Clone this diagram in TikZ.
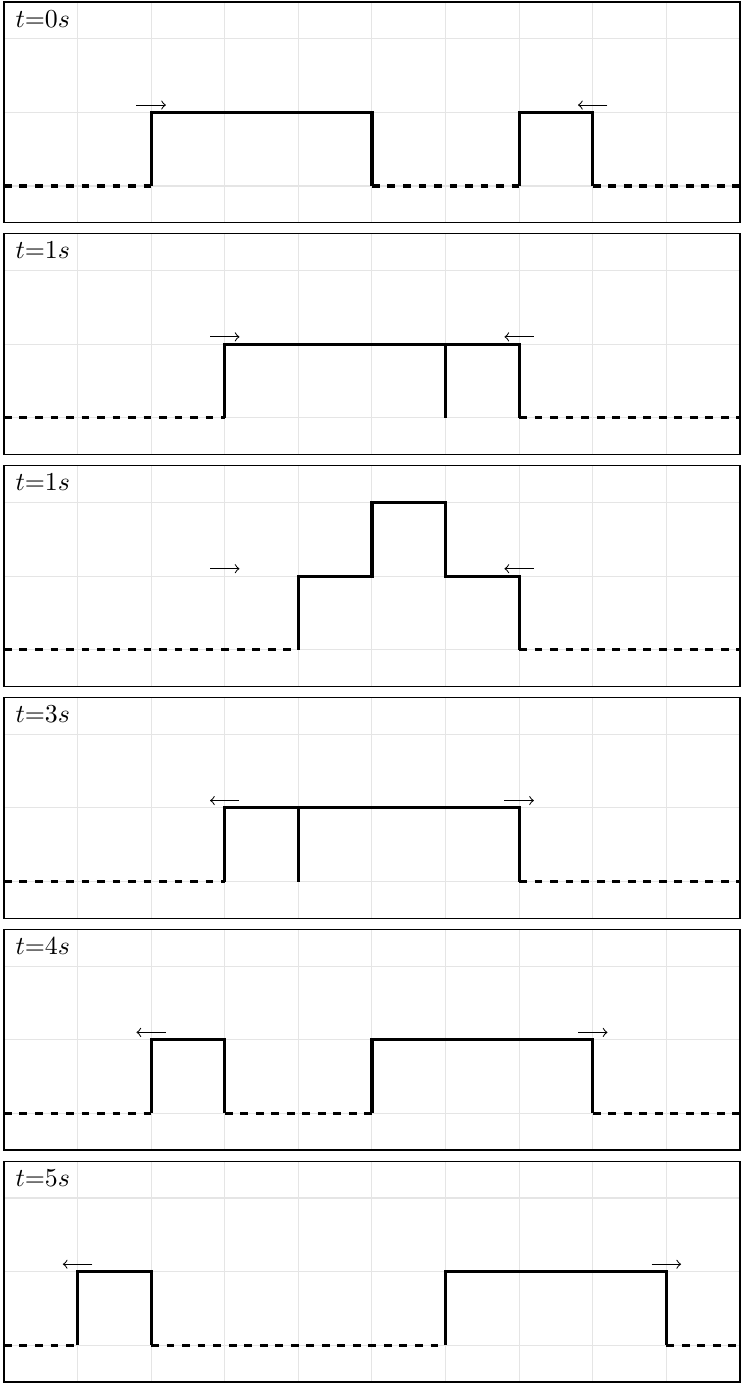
\documentclass[tikz,border=0pt]{standalone}
\begin{document}
\begin{tikzpicture}[x=1cm,y=1cm,
  gridline/.style={draw=gray!20, line width=0.4pt},
  frame/.style={draw=black, line width=0.5pt},
  wave/.style={line width=1.2pt},
  rest/.style={line width=1.2pt, dashed},
  mover/.style={->, line width=0.4pt},
  lbl/.style={anchor=base west, inner sep=0pt}]
\useasboundingbox (-0.054,-16.332) rectangle (10.082,2.527);
% panel 1
\begin{scope}[yshift=0cm]
\draw[gridline] (0,-0.5) grid (10,2.5);
\draw[frame] (0,-0.5) rectangle (10,2.5);
\node[lbl] (l0) at (0.15,2.16) {$t{=}0s$};
\draw[rest] (0,0) -- (2,0);
\draw[wave] (2,0) -- (2,1) -- (5,1) -- (5,0);
\draw[rest] (5,0) -- (7,0);
\draw[wave] (7,0) -- (7,1) -- (8,1) -- (8,0);
\draw[rest] (8,0) -- (10,0);
\draw[mover] (1.8,1.1) -- (2.2,1.1);
\draw[mover] (8.2,1.1) -- (7.8,1.1);
\end{scope}
% panel 2
\begin{scope}[yshift=-3.15cm]
\draw[gridline] (0,-0.5) grid (10,2.5);
\draw[frame] (0,-0.5) rectangle (10,2.5);
\node[lbl] (l1) at (0.15,2.16) {$t{=}1s$};
\draw[rest] (0,0) -- (3,0);
\draw[wave] (3,0) -- (3,1) -- (7,1) -- (7,0);
\draw[wave] (6,0) -- (6,1);
\draw[rest] (7,0) -- (10,0);
\draw[mover] (2.8,1.1) -- (3.2,1.1);
\draw[mover] (7.2,1.1) -- (6.8,1.1);
\end{scope}
% panel 3
\begin{scope}[yshift=-6.3cm]
\draw[gridline] (0,-0.5) grid (10,2.5);
\draw[frame] (0,-0.5) rectangle (10,2.5);
\node[lbl] (l2) at (0.15,2.16) {$t{=}1s$};
\draw[rest] (0,0) -- (4,0);
\draw[wave] (4,0) -- (4,1) -- (5,1) -- (5,2) -- (6,2) -- (6,1) -- (7,1) -- (7,0);
\draw[rest] (7,0) -- (10,0);
\draw[mover] (2.8,1.1) -- (3.2,1.1);
\draw[mover] (7.2,1.1) -- (6.8,1.1);
\end{scope}
% panel 4
\begin{scope}[yshift=-9.45cm]
\draw[gridline] (0,-0.5) grid (10,2.5);
\draw[frame] (0,-0.5) rectangle (10,2.5);
\node[lbl] (l3) at (0.15,2.16) {$t{=}3s$};
\draw[rest] (0,0) -- (3,0);
\draw[wave] (3,0) -- (3,1) -- (7,1) -- (7,0);
\draw[wave] (4,0) -- (4,1);
\draw[rest] (7,0) -- (10,0);
\draw[mover] (3.2,1.1) -- (2.8,1.1);
\draw[mover] (6.8,1.1) -- (7.2,1.1);
\end{scope}
% panel 5
\begin{scope}[yshift=-12.6cm]
\draw[gridline] (0,-0.5) grid (10,2.5);
\draw[frame] (0,-0.5) rectangle (10,2.5);
\node[lbl] (l4) at (0.15,2.16) {$t{=}4s$};
\draw[rest] (0,0) -- (2,0);
\draw[wave] (2,0) -- (2,1) -- (3,1) -- (3,0);
\draw[rest] (3,0) -- (5,0);
\draw[wave] (5,0) -- (5,1) -- (8,1) -- (8,0);
\draw[rest] (8,0) -- (10,0);
\draw[mover] (2.2,1.1) -- (1.8,1.1);
\draw[mover] (7.8,1.1) -- (8.2,1.1);
\end{scope}
% panel 6
\begin{scope}[yshift=-15.75cm]
\draw[gridline] (0,-0.5) grid (10,2.5);
\draw[frame] (0,-0.5) rectangle (10,2.5);
\node[lbl] (l5) at (0.15,2.16) {$t{=}5s$};
\draw[rest] (0,0) -- (1,0);
\draw[wave] (1,0) -- (1,1) -- (2,1) -- (2,0);
\draw[rest] (2,0) -- (6,0);
\draw[wave] (6,0) -- (6,1) -- (9,1) -- (9,0);
\draw[rest] (9,0) -- (10,0);
\draw[mover] (1.2,1.1) -- (0.8,1.1);
\draw[mover] (8.8,1.1) -- (9.2,1.1);
\end{scope}
\end{tikzpicture}
\end{document}
